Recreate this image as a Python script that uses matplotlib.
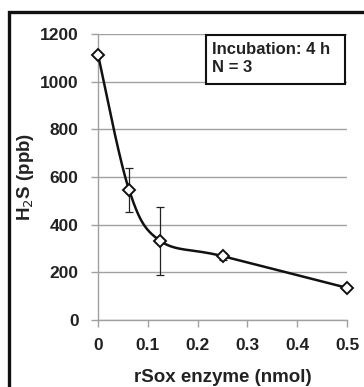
import numpy as np
import matplotlib
matplotlib.use("Agg")
import matplotlib.pyplot as plt
from matplotlib.patches import Rectangle

plt.rcParams['font.family'] = ['Liberation Sans', 'DejaVu Sans']

enzyme_nmol = [0.0, 0.0625, 0.125, 0.25, 0.5]
h2s_ppb = [1113, 545, 332, 268, 135]
h2s_err = [0, 92, 142, 15, 8]
x_ticks = [0, 0.1, 0.2, 0.3, 0.4, 0.5]
x_tick_labels = ['0', '0.1', '0.2', '0.3', '0.4', '0.5']
y_ticks = [0, 200, 400, 600, 800, 1000, 1200]


def excel_smooth(x, y, n=40):
    x = np.asarray(x, float)
    y = np.asarray(y, float)
    px, py = [x[0]], [y[0]]
    t = 1.0 / 6.0
    for i in range(len(x) - 1):
        x0, y0 = (x[i - 1], y[i - 1]) if i > 0 else (x[i], y[i])
        x3, y3 = (x[i + 2], y[i + 2]) if i + 2 < len(x) else (x[i + 1], y[i + 1])
        c1x = x[i] + t * (x[i + 1] - x0)
        c1y = y[i] + t * (y[i + 1] - y0)
        c2x = x[i + 1] - t * (x3 - x[i])
        c2y = y[i + 1] - t * (y3 - y[i])
        s = np.linspace(0, 1, n)[1:]
        bx = (1 - s) ** 3 * x[i] + 3 * (1 - s) ** 2 * s * c1x + 3 * (1 - s) * s ** 2 * c2x + s ** 3 * x[i + 1]
        by = (1 - s) ** 3 * y[i] + 3 * (1 - s) ** 2 * s * c1y + 3 * (1 - s) * s ** 2 * c2y + s ** 3 * y[i + 1]
        px.extend(bx)
        py.extend(by)
    return np.array(px), np.array(py)


W, H = 364, 387
fig = plt.figure(figsize=(W / 100, H / 100), dpi=100)
ax = fig.add_axes([98 / W, 1 - 320 / H, (347 - 98) / W, (320 - 34) / H])

ax.set_xlim(0, 0.5)
ax.set_ylim(0, 1200)
ax.set_yticks(y_ticks)
ax.set_xticks(x_ticks)
ax.set_xticklabels(x_tick_labels)
ax.grid(axis='y', color='#a0a0a0', linewidth=1.0)
ax.set_axisbelow(True)
for side in ['top', 'right']:
    ax.spines[side].set_visible(False)
for side in ['left', 'bottom']:
    ax.spines[side].set_color('#a0a0a0')
    ax.spines[side].set_linewidth(1.0)
ax.tick_params(axis='both', color='#a0a0a0', length=5, width=1.0,
               labelsize=12.5)
ax.tick_params(axis='y', pad=9)
ax.tick_params(axis='x', pad=8)
for lbl in ax.get_xticklabels() + ax.get_yticklabels():
    lbl.set_fontweight('bold')
    lbl.set_color('#222222')

sx, sy = excel_smooth(enzyme_nmol, h2s_ppb)
ax.plot(sx, sy, color='#111111', linewidth=1.8, zorder=3, clip_on=False)
ax.errorbar(enzyme_nmol, h2s_ppb, yerr=h2s_err, fmt='none', ecolor='#222222',
            elinewidth=0.9, capsize=3, capthick=0.9, zorder=3)
ax.plot(enzyme_nmol, h2s_ppb, linestyle='none', marker='D', markersize=6,
        markerfacecolor='white', markeredgecolor='#111111', markeredgewidth=1.4,
        zorder=4, clip_on=False)

ax.set_xlabel('rSox enzyme (nmol)', fontsize=13.5, fontweight='bold',
              color='#222222')
ax.set_ylabel('H$_2$S (ppb)', fontsize=13.5, fontweight='bold', color='#222222')
ax.xaxis.set_label_coords(0.5, (320 - 377) / 286)
ax.yaxis.set_label_coords((25 - 98) / 249, 0.5)
ax.xaxis.label.set_va('center')
ax.yaxis.label.set_va('center')

# annotation box
fig.patches.append(Rectangle((206 / W, 1 - 84 / H), (345 - 206) / W, (84 - 35) / H,
                             transform=fig.transFigure, facecolor='white',
                             edgecolor='#111111', linewidth=1.5, zorder=5))
fig.text(212 / W, 1 - 50 / H, 'Incubation: 4 h', fontsize=12, fontweight='bold',
         color='#222222', va='center', ha='left', zorder=6)
fig.text(212 / W, 1 - 68 / H, 'N = 3', fontsize=12, fontweight='bold',
         color='#222222', va='center', ha='left', zorder=6)

fig.patches.append(Rectangle((9 / W, -0.1), 1.2, 1 - 12 / H + 0.1,
                             transform=fig.transFigure, fill=False,
                             edgecolor='#111111', linewidth=2.4))

fig.savefig('out.png', dpi=100)
